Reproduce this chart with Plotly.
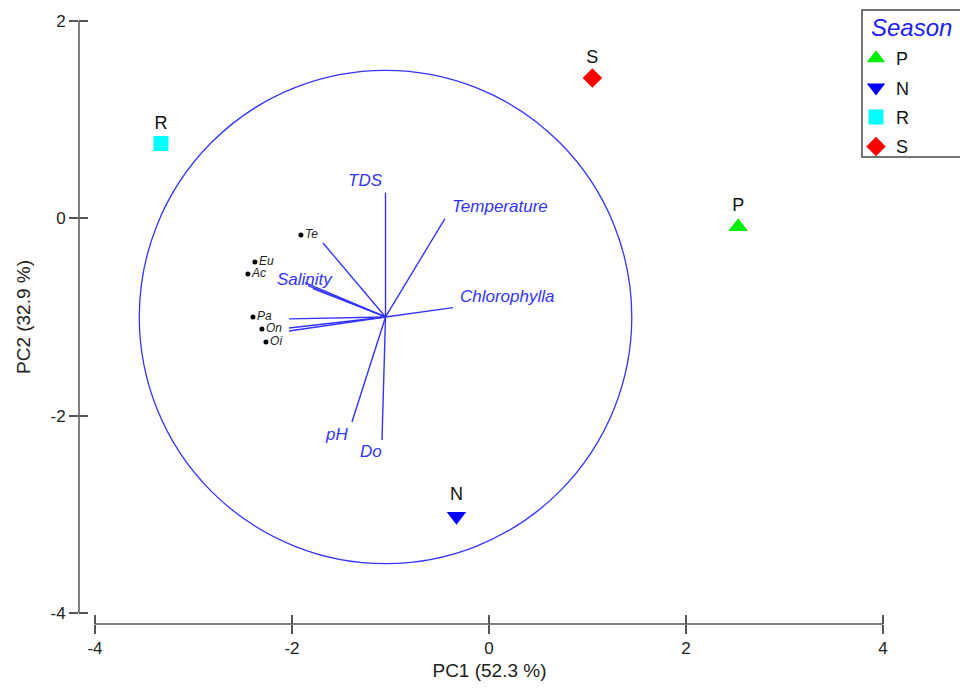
import plotly.graph_objects as go

# ---------------- data ----------------
seasons = ["P", "N", "R", "S"]
season_pc1 = [2.53, -0.33, -3.33, 1.05]
season_pc2 = [-0.085, -3.02, 0.758, 1.422]

species = ["Te", "Eu", "Ac", "Pa", "On", "Oi"]
species_pc1 = [-1.909, -2.376, -2.447, -2.396, -2.305, -2.264]
species_pc2 = [-0.169, -0.443, -0.565, -1.000, -1.122, -1.254]

vector_origin = (-1.05, -1.0)
vector_names = ["TDS", "Temperature", "Chlorophylla", "Salinity", "pH", "Do",
                "Te", "Eu", "Ac", "Pa", "On", "Oi"]
vector_pc1 = [-1.05, -0.447, -0.365, -1.838, -1.391, -1.086,
              -1.685, -1.868, -1.787, -2.030, -2.030, -2.030]
vector_pc2 = [0.26, -0.003, -0.905, -0.682, -2.065, -2.247,
              -0.250, -0.652, -0.712, -1.020, -1.112, -1.142]
labelled_vectors = ["TDS", "Temperature", "Chlorophylla", "Salinity", "pH", "Do"]
circle_radius = 2.5

x_ticks = [-4, -2, 0, 2, 4]
x_ticktext = ["-4", "-2", "0", "2", "4"]
y_ticks = [-4, -2, 0, 2]
y_ticktext = ["-4", "-2", "0", "2"]

# ---------------- styles ----------------
FONT = "Liberation Sans, Arial, sans-serif"
BLUE = "#3434ff"
AXIS = "#555555"
season_style = {
    "P": dict(symbol="triangle-up", color="#00ee00", size=17),
    "N": dict(symbol="triangle-down", color="#0000ff", size=17),
    "R": dict(symbol="square", color="#00ffff", size=15),
    "S": dict(symbol="diamond", color="#ff0000", size=15),
}
label_shift = {
    "TDS": dict(xanchor="center", xshift=-20, yshift=12),
    "Temperature": dict(xanchor="left", xshift=5, yshift=12),
    "Chlorophylla": dict(xanchor="left", xshift=5, yshift=11),
    "Salinity": dict(xanchor="center", xshift=-3, yshift=6),
    "pH": dict(xanchor="center", xshift=-15, yshift=-12),
    "Do": dict(xanchor="center", xshift=-11, yshift=-12),
}

ML, MR, MT, MB = 79, 60, 10, 65
PW, PH = 960 - ML - MR, 689 - MT - MB


def px_x(p):  # pixel column -> paper fraction
    return (p - ML) / PW


def px_y(p):  # pixel row -> paper fraction
    return (689 - MB - p) / PH


fig = go.Figure()

# correlation circle
ox, oy = vector_origin
fig.add_shape(type="circle", xref="x", yref="y",
              x0=ox - circle_radius, x1=ox + circle_radius,
              y0=oy - circle_radius, y1=oy + circle_radius,
              line=dict(color=BLUE, width=1.3), layer="below")

# vectors
vx, vy = [], []
for x, y in zip(vector_pc1, vector_pc2):
    vx += [ox, x, None]
    vy += [oy, y, None]
fig.add_trace(go.Scatter(x=vx, y=vy, mode="lines", line=dict(color=BLUE, width=1.4),
                         showlegend=False, hoverinfo="skip"))

for name, x, y in zip(vector_names, vector_pc1, vector_pc2):
    if name in labelled_vectors:
        s = label_shift[name]
        fig.add_annotation(x=x, y=y, xref="x", yref="y", text=name, showarrow=False,
                           font=dict(family=FONT, size=17, color=BLUE, style="italic"),
                           xanchor=s["xanchor"], yanchor="middle",
                           xshift=s["xshift"], yshift=s["yshift"])

# species points
fig.add_trace(go.Scatter(x=species_pc1, y=species_pc2, mode="markers+text",
                         text=species, textposition="middle right",
                         textfont=dict(family=FONT, size=12, color="#222222", style="italic"),
                         marker=dict(color="black", size=5),
                         showlegend=False, hoverinfo="skip"))

# season points
for name, x, y in zip(seasons, season_pc1, season_pc2):
    st = season_style[name]
    fig.add_trace(go.Scatter(x=[x], y=[y], mode="markers+text", name=name,
                             text=[name], textposition="top center",
                             textfont=dict(family=FONT, size=18, color="#111111"),
                             marker=dict(symbol=st["symbol"], color=st["color"], size=st["size"]),
                             legendgroup=name))

# invisible trace on overlay axes (for crossing ticks)
fig.add_trace(go.Scatter(x=[0], y=[0], xaxis="x2", yaxis="y2", mode="markers",
                         marker=dict(opacity=0), showlegend=False, hoverinfo="skip"))

xr = [-4.162, 4.173]
yr = [-4.112, 2.111]

fig.update_layout(
    width=960, height=689,
    margin=dict(l=ML, r=MR, t=MT, b=MB),
    paper_bgcolor="white", plot_bgcolor="white",
    font=dict(family=FONT, color="#222222"),
    xaxis=dict(range=xr, tickvals=x_ticks, ticktext=x_ticktext, ticks="outside", ticklen=9,
               tickwidth=1.5, tickcolor=AXIS, showline=False, showgrid=False, zeroline=False,
               tickfont=dict(size=17, color="#222222"),
               title=dict(text="PC1 (52.3 %)", font=dict(size=19, color="#222222"), standoff=6)),
    yaxis=dict(range=yr, tickvals=y_ticks, ticktext=y_ticktext, ticks="outside", ticklen=9,
               tickwidth=1.5, tickcolor=AXIS, showline=False, showgrid=False, zeroline=False,
               tickfont=dict(size=17, color="#222222"),
               title=dict(text="PC2 (32.9 %)", font=dict(size=19, color="#222222"), standoff=14)),
    xaxis2=dict(range=xr, overlaying="x", anchor="y", side="bottom", tickvals=x_ticks,
                ticks="inside", ticklen=9, tickwidth=1.5, tickcolor=AXIS,
                showticklabels=False, showgrid=False, zeroline=False, showline=False),
    yaxis2=dict(range=yr, overlaying="y", anchor="x", side="left", tickvals=y_ticks,
                ticks="inside", ticklen=9, tickwidth=1.5, tickcolor=AXIS,
                showticklabels=False, showgrid=False, zeroline=False, showline=False),
    legend=dict(x=px_x(856), y=px_y(40), xanchor="left", yanchor="top",
                bgcolor="rgba(0,0,0,0)", borderwidth=0, tracegroupgap=3,
                font=dict(size=18, color="#111111")),
)

# legend title
fig.add_annotation(x=px_x(869), y=px_y(27), xref="paper", yref="paper", text="Season",
                   showarrow=False, xanchor="left", yanchor="middle",
                   font=dict(family=FONT, size=24, color="#2020ff", style="italic"))

# detached axis lines
fig.add_shape(type="line", xref="x", yref="paper", x0=x_ticks[0], x1=x_ticks[-1], y0=0, y1=0,
              line=dict(color=AXIS, width=1.5))
fig.add_shape(type="line", xref="paper", yref="y", x0=0, x1=0, y0=y_ticks[0], y1=y_ticks[-1],
              line=dict(color=AXIS, width=1.5))
# legend frame
fig.add_shape(type="rect", xref="paper", yref="paper",
              x0=px_x(862), x1=px_x(975), y0=px_y(157), y1=px_y(10),
              line=dict(color="#444444", width=1.5))

fig.write_html("out.html")
